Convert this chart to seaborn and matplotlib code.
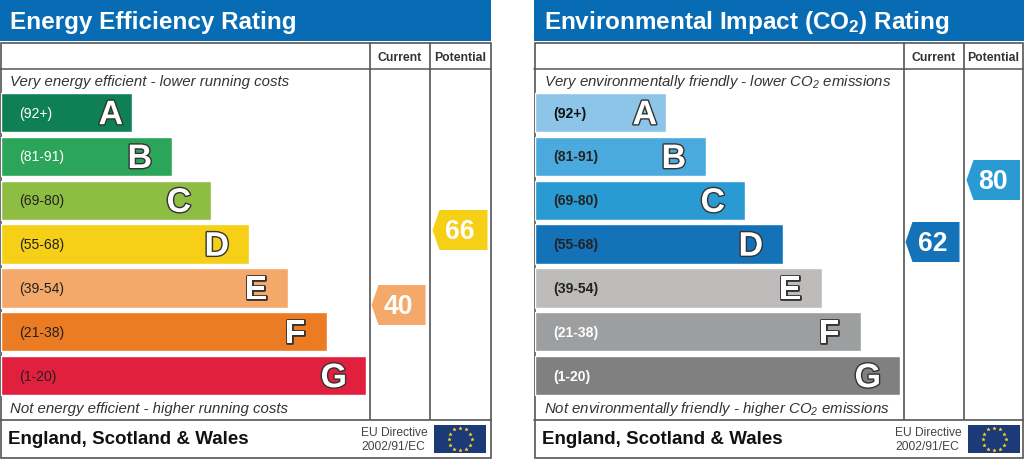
import matplotlib
matplotlib.use("Agg")
import numpy as np
import pandas as pd
import matplotlib.pyplot as plt
import matplotlib.patheffects as pe
from matplotlib.patches import Rectangle, Polygon
import seaborn as sns

# -------------------------------
# Data
# -------------------------------
bands = ["A", "B", "C", "D", "E", "F", "G"]
ranges = ["(92+)", "(81-91)", "(69-80)", "(55-68)", "(39-54)", "(21-38)", "(1-20)"]
bar_lengths = [131, 171, 210, 248, 287, 326, 365]

energy_colors = ["#0f8055", "#2ba55a", "#8dbe43", "#f6cf17", "#f4a96b", "#ec7c24", "#e21f3d"]
env_colors = ["#8cc5e8", "#4aaade", "#2a9ad3", "#1472b8", "#bdbcba", "#9d9e9f", "#808080"]
energy_range_colors = ["white", "white", "#222222", "#222222", "#222222", "#222222", "#222222"]
env_range_colors = ["#111111", "#222222", "#222222", "#222222", "#222222", "white", "white"]

energy_title = "Energy Efficiency Rating"
env_title = "Environmental Impact (CO$_2$) Rating"
energy_top = "Very energy efficient - lower running costs"
energy_bottom = "Not energy efficient - higher running costs"
env_top = "Very environmentally friendly - lower CO$_2$ emissions"
env_bottom = "Not environmentally friendly - higher CO$_2$ emissions"

energy_current, energy_potential = 40, 66
env_current, env_potential = 62, 80

FONT = "Liberation Sans"
sns.set_theme(style="white")
plt.rcParams["font.family"] = [FONT, "DejaVu Sans"]
plt.rcParams["mathtext.fontset"] = "custom"
plt.rcParams["mathtext.rm"] = FONT
plt.rcParams["mathtext.it"] = FONT + ":italic"
plt.rcParams["mathtext.bf"] = FONT + ":bold"
plt.rcParams["mathtext.default"] = "regular"

W, H = 1024, 460
fig = plt.figure(figsize=(W / 100, H / 100), dpi=100, facecolor="white")

# full figure axes in pixel units for the frame and labels
ax = fig.add_axes([0, 0, 1, 1])
ax.set_xlim(0, W)
ax.set_ylim(H, 0)
ax.axis("off")

LINE = "#555555"


def px(size):
    return size * 0.72


def draw_bars(x0, colors, range_colors, range_weight):
    # bar band 91.7..398.5 px, one category per rating
    sub = fig.add_axes([x0 / W, 1 - 398.5 / H, 400 / W, 306.8 / H])
    sub.patch.set_alpha(0)
    df = pd.DataFrame({"band": bands, "length": bar_lengths})
    sns.barplot(data=df, y="band", x="length", hue="band", palette=colors,
                saturation=1, width=0.895, legend=False, ax=sub)
    sub.set_xlim(0, 400)
    sub.axis("off")
    for i, (name, rng, length) in enumerate(zip(bands, ranges, bar_lengths)):
        sub.text(18, i, rng, color=range_colors[i], fontsize=px(14), fontweight=range_weight,
                 va="center", ha="left")
        # the A sits closer to the bar end than the other letters
        offset = 21 if i == 0 else 32
        t = sub.text(length - offset, i + 0.07, name, color="white", fontsize=px(34), fontweight="bold",
                     va="center", ha="center")
        t.set_path_effects([pe.Stroke(linewidth=2.0, foreground="#333333"), pe.Normal()])


def draw_pointer(x_left, x_right, y_mid, value, color):
    pts = [(x_left, y_mid), (x_left + 7, y_mid - 20), (x_right, y_mid - 20),
           (x_right, y_mid + 20), (x_left + 7, y_mid + 20)]
    ax.add_patch(Polygon(pts, closed=True, fc=color, ec="none", zorder=5))
    ax.text((x_left + x_right) / 2, y_mid + 1, str(value), color="white", fontsize=px(26.5),
            fontweight="bold", ha="center", va="center", zorder=6)


def eu_flag(x, y, w, h):
    ax.add_patch(Rectangle((x, y), w, h, fc="#1d3a78", ec="none", zorder=3))
    ang = np.deg2rad(np.arange(0, 360, 30))
    ax.scatter(x + w / 2 + 11.5 * np.cos(ang), y + h / 2 + 11 * np.sin(ang), s=6, marker="*",
               color="#f5d020", linewidths=0.3, zorder=4)


def panel(x0, x1, title, top, bottom, colors, range_colors, range_weight,
          current, potential, cur_y, pot_y, cur_col, pot_col):
    col1, col2 = x0 + 369.5, x0 + 429.5
    ax.add_patch(Rectangle((x0, 0), 491, 41.5, fc="#086cb4", ec="none"))
    ax.text(x0 + 10, 22, title, color="white", fontsize=px(24.3), fontweight="bold", va="center", ha="left")
    ax.add_patch(Rectangle((x0 + 0.7, 44), x1 - x0 - 0.7, 415, fc="none", ec=LINE, lw=1.2, zorder=2))
    ax.plot([x0, x1], [69.5, 69.5], color=LINE, lw=1.1)
    ax.plot([x0, x1], [420.5, 420.5], color=LINE, lw=1.2)
    ax.plot([col1, col1], [44, 420], color=LINE, lw=1.2)
    ax.plot([col2, col2], [44, 420], color=LINE, lw=1.2)
    ax.text((col1 + col2) / 2, 58, "Current", color="#333333", fontsize=px(12.3), fontweight="bold", ha="center", va="center")
    ax.text((col2 + x1) / 2, 58, "Potential", color="#333333", fontsize=px(12.3), fontweight="bold", ha="center", va="center")
    ax.text(x0 + 10.5, 82, top, color="#333333", fontsize=px(15), style="italic", ha="left", va="center")
    ax.text(x0 + 10.5, 409, bottom, color="#333333", fontsize=px(15), style="italic", ha="left", va="center")
    ax.text(x0 + 8, 440, "England, Scotland & Wales", color="#111111", fontsize=px(18.8), fontweight="bold", ha="left", va="center")
    ax.text(x0 + 361, 433.5, "EU Directive", color="#444444", fontsize=px(12), ha="left", va="center")
    ax.text(x0 + 361, 447.5, "2002/91/EC", color="#444444", fontsize=px(12), ha="left", va="center")
    eu_flag(x0 + 434, 426, 52, 28)
    draw_bars(x0 + 0.8, colors, range_colors, range_weight)
    draw_pointer(col1 + 2, col2 - 4, cur_y, current, cur_col)
    draw_pointer(col2 + 3, x1 - 3, pot_y, potential, pot_col)


panel(0, 490.5, energy_title, energy_top, energy_bottom, energy_colors, energy_range_colors, "normal",
      energy_current, energy_potential, 306, 231, energy_colors[4], energy_colors[3])
panel(534, 1023, env_title, env_top, env_bottom, env_colors, env_range_colors, "bold",
      env_current, env_potential, 243, 181, env_colors[3], env_colors[2])

fig.savefig("out.png", dpi=100, facecolor="white")
